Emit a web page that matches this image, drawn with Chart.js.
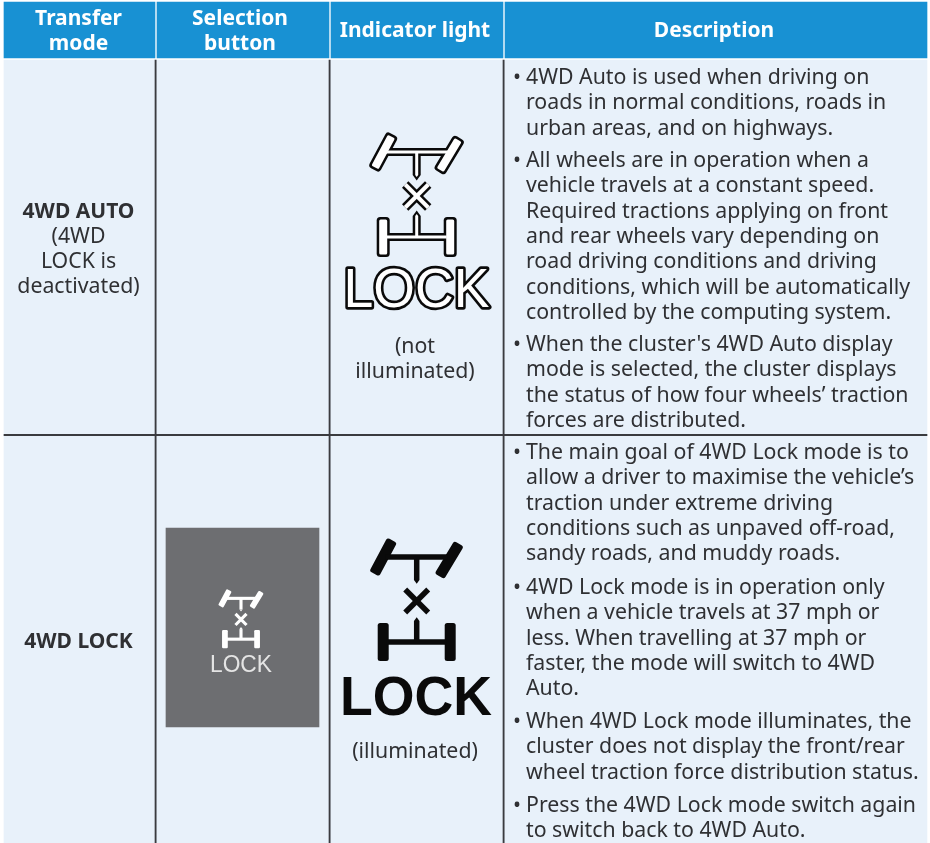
<!DOCTYPE html>
<html>
<head>
<meta charset="utf-8">
<title>Transfer mode</title>
<script src="https://cdn.jsdelivr.net/npm/chart.js@4"></script>
<style>
    html, body { margin: 0; padding: 0; background: #fff; }
    canvas { display: block; }
</style>
</head>
<body>
<canvas id="modeTable" width="930" height="843"></canvas>
<script>
// table contents
const headers = [['Transfer', 'mode'], ['Selection', 'button'], ['Indicator light'], ['Description']];
const modeAuto = ['4WD AUTO', '(4WD', 'LOCK is', 'deactivated)'];
const modeLock = ['4WD LOCK'];
const lightAuto = ['(not', 'illuminated)'];
const lightLock = ['(illuminated)'];
const descAuto = [
    ['4WD Auto is used when driving on', 'roads in normal conditions, roads in', 'urban areas, and on highways.'],
    ['All wheels are in operation when a', 'vehicle travels at a constant speed.', 'Required tractions applying on front', 'and rear wheels vary depending on', 'road driving conditions and driving', 'conditions, which will be automatically', 'controlled by the computing system.'],
    ["When the cluster's 4WD Auto display", 'mode is selected, the cluster displays', 'the status of how four wheels\u2019 traction', 'forces are distributed.']
];
const descLock = [
    ['The main goal of 4WD Lock mode is to', 'allow a driver to maximise the vehicle\u2019s', 'traction under extreme driving', 'conditions such as unpaved off-road,', 'sandy roads, and muddy roads.'],
    ['4WD Lock mode is in operation only', 'when a vehicle travels at 37 mph or', 'less. When travelling at 37 mph or', 'faster, the mode will switch to 4WD', 'Auto.'],
    ['When 4WD Lock mode illuminates, the', 'cluster does not display the front/rear', 'wheel traction force distribution status.'],
    ['Press the 4WD Lock mode switch again', 'to switch back to 4WD Auto.']
];

// table grid, in axis units
const colEdges = [4, 155, 329, 503, 927];
const rowEdges = [2, 58, 435, 843];
const buttonX = [166, 319];
const buttonY = [528, 727];

const BLUE = '#1891d3';
const CELL = '#e8f1fa';
const INK = '#2f3033';
const RULE = '#3a3b3f';
const FONT = '"Noto Sans", sans-serif';

const columnsAsBars = (top, bottom, gap) => colEdges.slice(0, -1).map((left, i) => ({
    x: [left + (i ? gap : 0), colEdges[i + 1]],
    y: (top + bottom) / 2
}));

// bar datasets paint last-to-first, so cells sit at the end of the list
const tableBars = {
    datasets: [
        {
            label: 'button',
            data: [{ x: buttonX, y: (buttonY[0] + buttonY[1]) / 2 }],
            backgroundColor: '#6d6e71',
            barThickness: buttonY[1] - buttonY[0]
        },
        {
            label: 'row rule',
            data: [{ x: [colEdges[0], colEdges[4]], y: rowEdges[2] }],
            backgroundColor: RULE,
            barThickness: 1.5
        },
        {
            label: 'column rules',
            data: colEdges.slice(1, -1).map(x => ({ x: [x, x + 1.2], y: (rowEdges[1] + 2 + rowEdges[3]) / 2 })),
            backgroundColor: RULE,
            barThickness: rowEdges[3] - rowEdges[1] - 2
        },
        {
            label: 'header',
            data: columnsAsBars(rowEdges[0], rowEdges[1], 2),
            backgroundColor: BLUE,
            barThickness: rowEdges[1] - rowEdges[0]
        },
        {
            label: '4WD AUTO',
            data: columnsAsBars(rowEdges[1] + 2, rowEdges[2], 0),
            backgroundColor: CELL,
            barThickness: rowEdges[2] - rowEdges[1] - 2
        },
        {
            label: '4WD LOCK',
            data: columnsAsBars(rowEdges[2], rowEdges[3], 0),
            backgroundColor: CELL,
            barThickness: rowEdges[3] - rowEdges[2]
        }
    ]
};

const writeCentered = (ctx, lines, cx, firstY, step, font, color) => {
    ctx.font = font;
    ctx.fillStyle = color;
    ctx.textAlign = 'center';
    ctx.textBaseline = 'middle';
    lines.forEach((line, i) => ctx.fillText(line, cx, firstY + i * step));
};

const writeBullets = (ctx, groups, tops) => {
    ctx.font = `21.3px ${FONT}`;
    ctx.fillStyle = INK;
    ctx.textAlign = 'left';
    ctx.textBaseline = 'middle';
    groups.forEach((lines, g) => {
        ctx.fillText('\u2022', 513, tops[g]);
        lines.forEach((line, i) => ctx.fillText(line, 526, tops[g] + i * 25.3));
    });
};

// axle symbol, same shape for all three icons
const axlePath = (ctx, cx, cy, k, wheel, bar, cross, radius, grow) => {
    const seg = (pts, w) => {
        ctx.lineWidth = w * k;
        ctx.beginPath();
        pts.forEach((p, i) => {
            const px = cx + p[0] * k, py = cy + p[1] * k;
            if (i) ctx.lineTo(px, py); else ctx.moveTo(px, py);
        });
        ctx.stroke();
    };
    const tyre = (mx, my, angle, len) => {
        ctx.save();
        ctx.translate(cx + mx * k, cy + my * k);
        ctx.rotate(angle);
        ctx.fillStyle = ctx.strokeStyle;
        ctx.beginPath();
        ctx.roundRect(-(len + grow) / 2 * k, -wheel / 2 * k, (len + grow) * k, wheel * k, radius * k);
        ctx.fill();
        ctx.restore();
    };
    // stem with a pointed end
    const stem = (fromY, toY) => {
        const dir = toY > fromY ? 1 : -1;
        seg([[0, fromY], [0, toY]], bar);
        ctx.fillStyle = ctx.strokeStyle;
        ctx.beginPath();
        ctx.moveTo(cx - bar / 2 * k, cy + toY * k);
        ctx.lineTo(cx + bar / 2 * k, cy + toY * k);
        ctx.lineTo(cx, cy + (toY + dir * bar * 0.7) * k);
        ctx.closePath();
        ctx.fill();
    };
    ctx.lineJoin = 'round';
    ctx.lineCap = 'butt';
    tyre(-33.5, -43, -1.08, 38);
    tyre(32.5, -40, -1.03, 38);
    tyre(33.5, 42, Math.PI / 2, 38);
    tyre(-33.5, 42, Math.PI / 2, 38);
    seg([[-31, -43], [31, -43]], bar);
    stem(-43, -20);
    seg([[-30, 42], [30, 42]], bar);
    stem(42, 21);
    seg([[-11.5, -10.5], [11.5, 12.5]], cross);
    seg([[11.5, -10.5], [-11.5, 12.5]], cross);
};

const lockWord = (ctx, cx, cy, width, font) => {
    ctx.font = font;
    ctx.textAlign = 'center';
    ctx.textBaseline = 'middle';
    ctx.save();
    ctx.translate(cx, cy);
    ctx.scale(width / ctx.measureText('LOCK').width, 1);
};

const tableText = {
    id: 'tableText',
    afterDatasetsDraw(chart) {
        const { ctx, scales: { x } } = chart;
        const cx = i => x.getPixelForValue((colEdges[i] + colEdges[i + 1]) / 2);

        ctx.save();
        const headFont = `bold 21px ${FONT}`;
        writeCentered(ctx, headers[0], cx(0) - 1, 19, 25, headFont, '#fff');
        writeCentered(ctx, headers[1], cx(1) - 2, 19, 25, headFont, '#fff');
        writeCentered(ctx, headers[2], cx(2) - 1, 31, 25, headFont, '#fff');
        writeCentered(ctx, headers[3], cx(3) - 1, 31, 25, headFont, '#fff');

        writeCentered(ctx, modeAuto.slice(0, 1), cx(0) - 1, 212, 25, `bold 21px ${FONT}`, INK);
        writeCentered(ctx, modeAuto.slice(1), cx(0) - 1, 237, 25, `21.3px ${FONT}`, INK);
        writeCentered(ctx, modeLock, cx(0) - 1, 642, 25, `bold 21px ${FONT}`, INK);
        writeCentered(ctx, lightAuto, cx(2) - 1, 347, 25, `21.3px ${FONT}`, INK);
        writeCentered(ctx, lightLock, cx(2) - 1, 752, 25, `21.3px ${FONT}`, INK);

        writeBullets(ctx, descAuto, [78, 161, 345]);
        writeBullets(ctx, descLock, [453, 588, 722, 806]);

        // outlined icon, 4WD AUTO row
        ctx.strokeStyle = '#0a0a0a';
        axlePath(ctx, 416.7, 195, 1, 13, 8, 9, 3.5, 2);
        ctx.strokeStyle = '#fff';
        axlePath(ctx, 416.7, 195, 1, 8, 3, 4, 1.5, -3);
        lockWord(ctx, 416.5, 292, 146, '56px "Liberation Sans", sans-serif');
        ctx.lineJoin = 'round';
        ctx.lineWidth = 5.5;
        ctx.strokeStyle = '#0a0a0a';
        ctx.strokeText('LOCK', 0, 0);
        ctx.fillStyle = '#fff';
        ctx.fillText('LOCK', 0, 0);
        ctx.restore();

        // filled icon, 4WD LOCK row
        ctx.strokeStyle = '#0a0a0a';
        axlePath(ctx, 416.7, 600, 1, 11, 5.5, 5.5, 2.5, 0);
        lockWord(ctx, 416, 700, 152, 'bold 56px "Liberation Sans", sans-serif');
        ctx.fillStyle = '#0a0a0a';
        ctx.fillText('LOCK', 0, 0);
        ctx.restore();

        // small icon on the button
        ctx.strokeStyle = '#fff';
        axlePath(ctx, 241, 619, 0.48, 12, 6.5, 6.5, 2.5, 0);
        lockWord(ctx, 241, 665, 62, '24px "Liberation Sans", sans-serif');
        ctx.fillStyle = '#e4e4e4';
        ctx.fillText('LOCK', 0, 0);
        ctx.restore();

        ctx.restore();
    }
};

new Chart(document.getElementById('modeTable').getContext('2d'), {
    type: 'bar',
    data: tableBars,
    plugins: [tableText],
    options: {
        indexAxis: 'y',
        responsive: false,
        animation: false,
        grouped: false,
        layout: { padding: 0 },
        plugins: { legend: { display: false }, tooltip: { enabled: false } },
        scales: {
            x: { type: 'linear', min: 0, max: 930, display: false },
            y: { type: 'linear', min: 0, max: 843, reverse: true, display: false, offset: false }
        }
    }
});
</script>
</body>
</html>
